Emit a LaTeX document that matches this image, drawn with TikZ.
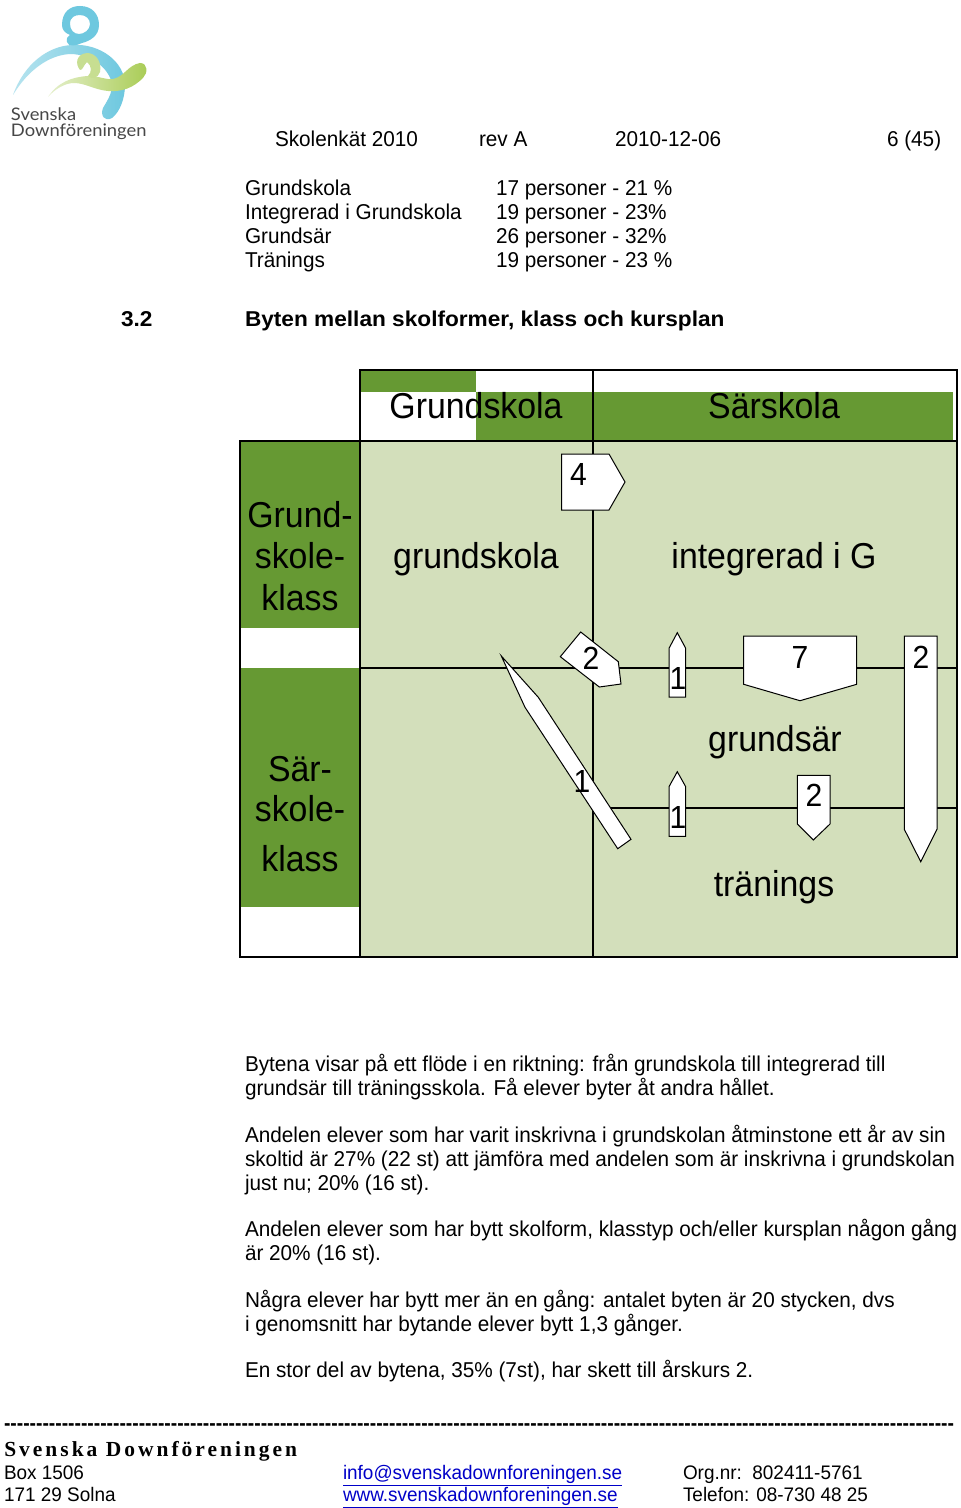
\documentclass[tikz,border=0pt]{standalone}
\usepackage{fontspec}
\newfontfamily\bodyf[FakeStretch=0.966]{Liberation Sans}
\newfontfamily\boldf[FakeStretch=1.055]{Liberation Sans Bold}
\newfontfamily\dashf[FakeStretch=0.898]{Liberation Sans Bold}
\newfontfamily\bigf[FakeStretch=0.94]{Liberation Sans}
\newfontfamily\serbf[LetterSpace=14,FakeStretch=1.0]{Liberation Serif Bold}
\newfontfamily\logof[FakeStretch=1.06]{Lato}
\definecolor{dkg}{HTML}{669933}
\definecolor{ltg}{HTML}{D3DFBB}
\definecolor{lblue}{HTML}{6EC8DF}
\definecolor{lgreen}{HTML}{A9CC55}
\definecolor{linkc}{HTML}{0000C8}
\tikzset{
 x=0.75pt,y=-0.75pt,
 txt/.style={anchor=base west,inner sep=0pt,outer sep=0pt,font=\bodyf\fontsize{16.1pt}{18pt}\selectfont,text=black},
 txb/.style={txt,font=\boldf\fontsize{16.1pt}{18pt}\selectfont},
 foot/.style={txt,font=\bodyf\fontsize{14.7pt}{16pt}\selectfont},
 big/.style={anchor=base,inner sep=0pt,outer sep=0pt,font=\bigf\fontsize{27pt}{30pt}\selectfont},
 num/.style={anchor=base,inner sep=0pt,outer sep=0pt,font=\bigf\fontsize{24pt}{26pt}\selectfont},
 arr/.style={draw=black,fill=white,line width=0.75pt,line join=miter},
 grid/.style={draw=black,line width=1.5pt},
 thin grid/.style={draw=black,line width=1.5pt},
 lg/.style={anchor=base west,inner sep=0pt,outer sep=0pt,text=black!72,font=\logof\fontsize{13pt}{14pt}\selectfont},
}
\begin{document}
\begin{tikzpicture}
\useasboundingbox (0,0) rectangle (960,1508);
\fill[white] (0,0) rectangle (960,1508);
% logo
\shade[left color=lblue!50!white,right color=lblue,shading angle=90] (13,95) .. controls (24,64) and (48,46) .. (72,45) .. controls (100,43) and (125,62) .. (125,85)
 .. controls (125,98) and (120,112) .. (112,118) .. controls (105,122) and (100,116) .. (103,108)
 .. controls (109,98) and (114,90) .. (111,80) .. controls (105,64) and (88,55) .. (72,54)
 .. controls (50,54) and (28,70) .. (13,95) -- cycle;
\fill[lblue,even odd rule] (62,25) .. controls (62,12) and (70,6) .. (80,6) .. controls (92,6) and (99,14) .. (99,25)
 .. controls (99,36) and (90,41) .. (82,43) .. controls (76,46) and (68,47) .. (67,42)
 .. controls (66,38) and (68,36) .. (70,35) .. controls (65,33) and (62,30) .. (62,25) -- cycle
 (70,24) .. controls (70,17) and (75,15) .. (80,15) .. controls (86,15) and (90,19) .. (90,24)
 .. controls (90,30) and (84,34) .. (79,34) .. controls (74,34) and (70,30) .. (70,24) -- cycle;
\shade[left color=lgreen!30!white,right color=lgreen,shading angle=90] (48,97) .. controls (58,82) and (72,77) .. (88,76) .. controls (100,76) and (105,80) .. (113,79)
 .. controls (124,77) and (128,65) .. (140,63) .. controls (148,63) and (148,73) .. (143,78)
 .. controls (133,88) and (122,92) .. (108,91) .. controls (95,90) and (85,83) .. (74,83)
 .. controls (65,83) and (55,89) .. (48,97) -- cycle;
\fill[lgreen!65!white] (87,53) .. controls (96,53) and (102,62) .. (100,72) .. controls (98,78) and (92,80) .. (88,76)
 .. controls (92,72) and (92,66) .. (87,62) .. controls (83,66) and (83,70) .. (80,70)
 .. controls (75,64) and (76,54) .. (87,53) -- cycle;
\node[lg] (logoa) at (11,121) {Svenska};
\node[lg] (logob) at (11,137) {Downföreningen};
% header
\node[txt] (h1) at (275,147) {Skolenkät 2010};
\node[txt] (h2) at (479,147) {rev A};
\node[txt] (h3) at (615,147) {2010-12-06};
\node[txt] (h4) at (887,147) {6 (45)};
\node[txt] (s1) at (245,196) {Grundskola};
\node[txt] (s2) at (245,220) {Integrerad i Grundskola};
\node[txt] (s3) at (245,244) {Grundsär};
\node[txt] (s4) at (245,268) {Tränings};
\node[txt] (p1) at (496,196) {17 personer - 21 \%};
\node[txt] (p2) at (496,220) {19 personer - 23\%};
\node[txt] (p3) at (496,244) {26 personer - 32\%};
\node[txt] (p4) at (496,268) {19 personer - 23 \%};
\node[txb] (secn) at (121,327) {3.2};
\node[txb] (sect) at (245,327) {Byten mellan skolformer, klass och kursplan};
% table fills
\fill[ltg] (360,441) rectangle (957,957);
\fill[dkg] (360,370) rectangle (476,392);
\fill[dkg] (476,392) rectangle (953,441);
\fill[dkg] (240,441) rectangle (360,628);
\fill[dkg] (240,668) rectangle (360,907);
% grid
\draw[grid] (360,370) rectangle (957,957);
\draw[grid] (240,441) rectangle (360,957);
\draw[grid] (360,441) -- (957,441);
\draw[thin grid] (593,370) -- (593,957);
\draw[thin grid] (360,668.3) -- (957,668.3);
\draw[thin grid] (593,807.7) -- (957,807.7);
% big labels
\node[big] (t1) at (476,418.5) {Grundskola};
\node[big] (t2) at (774,418.5) {Särskola};
\node[big] (t3) at (300,527) {Grund-};
\node[big] (t4) at (300,568) {skole-};
\node[big] (t5) at (300,610) {klass};
\node[big] (t6) at (300,781) {Sär-};
\node[big] (t7) at (300,821) {skole-};
\node[big] (t8) at (300,871) {klass};
\node[big] (t9) at (476,568) {grundskola};
\node[big] (t10) at (774,568) {integrerad i G};
\node[big] (t11) at (775,751) {grundsär};
\node[big] (t12) at (774,896) {tränings};
% arrows
\draw[arr] (561.5,454) -- (609,454) -- (625,482) -- (609,510) -- (561.5,510) -- cycle;
\draw[arr] (580.7,632) -- (618.3,661.7) -- (621,684) -- (599.3,687) -- (560.3,656.7) -- cycle;
\draw[arr] (501.3,656) -- (538.3,697.3) -- (631,839.3) -- (617.7,848.7) -- (525,707.3) -- cycle;
\draw[arr] (677.3,632.7) -- (685.7,648.3) -- (685.7,697) -- (669,697) -- (669,648.3) -- cycle;
\draw[arr] (677.3,771.7) -- (685.7,786.7) -- (685.7,836.3) -- (669,836.3) -- (669,786.7) -- cycle;
\draw[arr] (743.7,636) -- (856.7,636) -- (856.7,684.3) -- (800,700.7) -- (743.7,684.3) -- cycle;
\draw[arr] (904.3,636) -- (937,636) -- (937,829.3) -- (920.7,861.7) -- (904.3,829.3) -- cycle;
\draw[arr] (797.3,775.3) -- (830,775.3) -- (830,824) -- (813.3,840) -- (797.3,824) -- cycle;
% numbers
\node[num] (n1) at (578.5,485) {4};
\node[num] (n2) at (591,669) {2};
\node[num] (n3) at (678,689) {1};
\node[num] (n4) at (800,668) {7};
\node[num] (n5) at (921,668) {2};
\node[num] (n6) at (582,792) {1};
\node[num] (n7) at (678,828) {1};
\node[num] (n8) at (814,806) {2};
% paragraphs
\node[txt] (b1) at (245,1071) {Bytena visar på ett flöde i en riktning: från grundskola till integrerad till};
\node[txt] (b2) at (245,1095) {grundsär till träningsskola. Få elever byter åt andra hållet.};
\node[txt] (b3) at (245,1142) {Andelen elever som har varit inskrivna i grundskolan åtminstone ett år av sin};
\node[txt] (b4) at (245,1166) {skoltid är 27\% (22 st) att jämföra med andelen som är inskrivna i grundskolan};
\node[txt] (b5) at (245,1190) {just nu; 20\% (16 st).};
\node[txt] (b6) at (245,1236) {Andelen elever som har bytt skolform, klasstyp och/eller kursplan någon gång};
\node[txt] (b7) at (245,1260) {är 20\% (16 st).};
\node[txt] (b8) at (245,1307) {Några elever har bytt mer än en gång: antalet byten är 20 stycken, dvs};
\node[txt] (b9) at (245,1331) {i genomsnitt har bytande elever bytt 1,3 gånger.};
\node[txt] (b10) at (245,1377) {En stor del av bytena, 35\% (7st), har skett till årskurs 2.};
% footer
\node[txt,font=\dashf\fontsize{16.1pt}{18pt}\selectfont] (d) at (4,1430) {----------------------------------------------------------------------------------------------------------------------------------------------------};
\node[anchor=base west,inner sep=0pt] (f0) at (4,1456) {\serbf\fontsize{16.1pt}{18pt}\selectfont Svenska Downföreningen};
\node[foot] (f1) at (4,1479) {Box 1506};
\node[foot] (f2) at (4,1501) {171 29 Solna};
\node[foot,text=linkc] (f3) at (343,1479) {\underline{info@svenskadownforeningen.se}};
\node[foot,text=linkc] (f4) at (343,1501) {\underline{www.svenskadownforeningen.se}};
\node[foot] (f5) at (683,1479) {Org.nr:\ \ 802411-5761};
\node[foot] (f6) at (683,1501) {Telefon: 08-730 48 25};
\end{tikzpicture}
\end{document}
